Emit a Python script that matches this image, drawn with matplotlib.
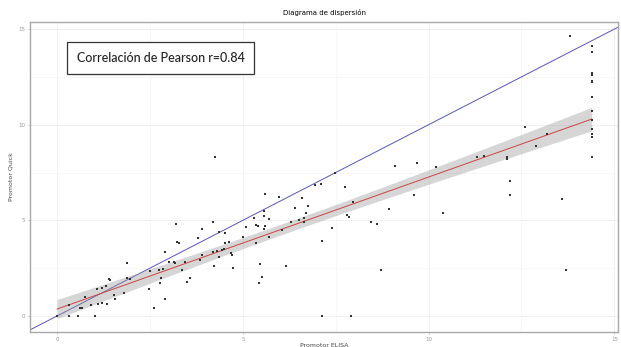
import matplotlib
matplotlib.use('Agg')
import matplotlib.pyplot as plt
from matplotlib.patches import Rectangle
import numpy as np

# Promotor ELISA (x) vs Promotor Quick (y)
elisa = np.array([
    0, 0.33, 0.55, 1.02, 0.62, 0.66, 0.33, 0.9, 1.09, 1.22, 1.34, 0.76, 1.57, 1.54, 1.79,
    1.07, 1.2, 1.31, 1.4, 1.43, 1.88, 1.97, 1.87,
    2.46, 2.6, 2.9, 2.78, 2.8, 2.5, 2.73, 2.85, 2.91, 3.0, 3.14, 3.18, 3.23, 3.27, 3.2,
    3.36, 3.45, 3.5, 3.58, 3.8, 3.9, 3.85, 3.9, 4.2, 4.3, 4.45, 4.5, 4.21, 4.2, 4.24,
    4.37, 4.53, 4.53, 4.64, 4.68, 4.7, 4.73, 4.37,
    5.0, 5.09, 5.3, 5.36, 5.4, 5.56, 5.6, 5.7, 5.36, 5.45, 5.52, 5.43, 5.56, 5.6, 5.97,
    5.71, 5.56, 6.15, 6.06, 6.41, 6.6, 6.75, 6.7, 6.64, 6.64, 6.3, 6.5,
    6.93, 7.1, 7.47, 7.74, 7.4, 7.13, 7.96, 7.8, 7.85, 8.45, 8.6, 8.93, 9.6, 9.1, 9.7,
    10.4, 8.73, 7.12, 7.9,
    10.2, 11.3, 11.5, 12.1, 12.1, 12.19, 12.19, 12.6, 12.9, 13.2, 13.6, 13.7, 13.8,
    14.39, 14.39, 14.39, 14.39, 14.39, 14.39, 14.39, 14.39, 14.39, 14.39, 14.39, 14.39, 14.39])
quick = np.array([
    0, 0, 0, 0, 0.43, 0.43, 0.59, 0.59, 0.6, 0.7, 0.62, 0.98, 0.9, 1.1, 1.22,
    1.42, 1.47, 1.58, 1.92, 1.88, 2.79, 1.93, 2.0,
    1.41, 0.44, 0.9, 1.74, 1.99, 2.37, 2.4, 2.47, 3.33, 2.8, 2.8, 2.75, 3.87, 3.8, 4.8,
    2.4, 2.8, 1.8, 2.0, 4.1, 4.55, 2.9, 3.2, 3.35, 3.4, 3.45, 3.5, 2.6, 4.93, 8.3,
    4.4, 4.36, 3.8, 3.88, 3.27, 3.19, 2.49, 3.1,
    4.11, 4.67, 5.1, 4.76, 4.7, 4.55, 4.7, 4.11, 3.8, 2.72, 2.02, 1.74, 5.5, 6.38, 6.2,
    5.05, 5.2, 2.61, 4.5, 5.67, 6.15, 5.75, 5.4, 5.1, 4.93, 4.9, 5.0,
    6.85, 6.9, 7.5, 6.73, 4.6, 3.9, 5.96, 5.3, 5.15, 4.93, 4.8, 5.6, 6.33, 7.84, 7.98,
    5.4, 2.4, 0, 0,
    7.8, 8.3, 8.36, 8.3, 8.22, 7.07, 6.33, 9.9, 8.9, 9.5, 6.1, 2.4, 14.62,
    14.1, 13.8, 12.7, 12.6, 12.3, 12.25, 11.46, 10.73, 10.25, 9.8, 9.5, 9.34, 8.33])

pearson_r = 0.84

# regresión lineal con intervalo de confianza 95%
slope, intercept = np.polyfit(elisa, quick, 1)
n = len(elisa)
resid = quick - (intercept + slope * elisa)
s = np.sqrt(np.sum(resid ** 2) / (n - 2))
xfit = np.linspace(elisa.min(), elisa.max(), 100)
yfit = intercept + slope * xfit
se = s * np.sqrt(1 / n + (xfit - elisa.mean()) ** 2 / np.sum((elisa - elisa.mean()) ** 2))
band = 1.98 * se

fig = plt.figure(figsize=(6.21, 3.47), dpi=100)
ax = fig.add_axes([0.0483, 0.0432, 0.947, 0.8934])

ax.set_xlim(-0.73, 15.1)
ax.set_ylim(-0.84, 15.37)

ax.set_xticks([0, 5, 10, 15])
ax.set_yticks([0, 5, 10, 15])
ax.set_xticks([2.5, 7.5, 12.5], minor=True)
ax.set_yticks([2.5, 7.5, 12.5], minor=True)
ax.grid(which='major', color='#eeeeee', linewidth=0.6)
ax.grid(which='minor', color='#f4f4f4', linewidth=0.5)
ax.set_axisbelow(True)
ax.tick_params(which='both', length=1.5, width=0.4, colors='#999999', labelsize=4, pad=2)
ax.tick_params(which='minor', length=0)
for sp in ax.spines.values():
    sp.set_color('#a8a8a8')
    sp.set_linewidth(1.0)

# linea identidad y = x
ax.axline((0, 0), slope=1, color='#5555bb', linewidth=0.7, zorder=2)

ax.fill_between(xfit, yfit - band, yfit + band, color='#999999', alpha=0.4, linewidth=0, zorder=2)
ax.plot(xfit, yfit, color='#cc4444', linewidth=0.7, zorder=3)

ax.scatter(elisa, quick, s=3, color='#333333', marker='s', linewidths=0, zorder=4)

ax.set_title('Diagrama de dispersión', fontsize=5, pad=5)
ax.set_xlabel('Promotor ELISA', fontsize=4.5, color='#444444', labelpad=1)
ax.set_ylabel('Promotor Quick', fontsize=4.5, color='#444444', labelpad=3)

ax.add_patch(Rectangle((0.063, 0.832), 0.318, 0.103, transform=ax.transAxes,
                       facecolor='white', edgecolor='#333333', linewidth=0.9, zorder=5))
ax.text(0.222, 0.884, 'Correlación de Pearson r=%.2f' % pearson_r, transform=ax.transAxes,
        ha='center', va='center', fontsize=9, family='Lato', fontweight='medium',
        color='#222222', zorder=6)

fig.savefig('out.png', dpi=100)
